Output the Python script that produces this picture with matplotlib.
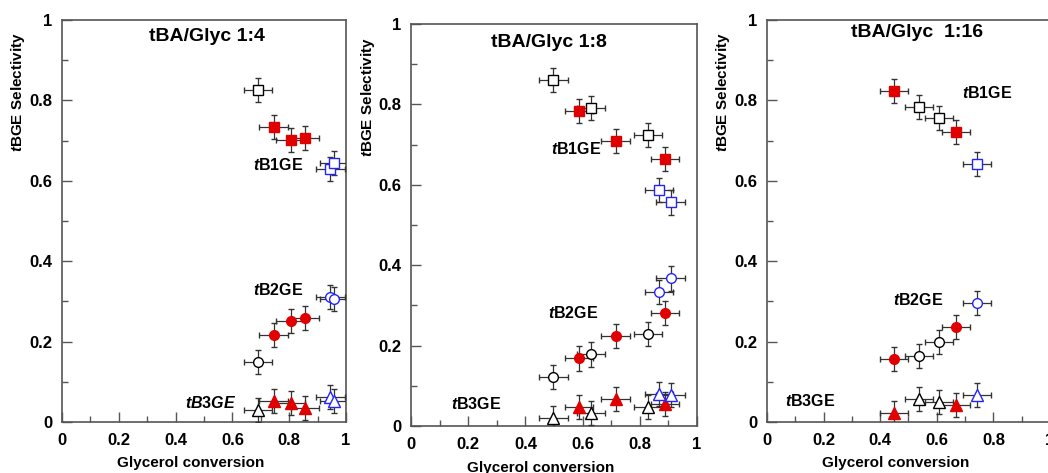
import numpy as np
import matplotlib
matplotlib.use('Agg')
import matplotlib.pyplot as plt
import matplotlib as mpl
from matplotlib.ticker import MultipleLocator, FuncFormatter

mpl.rc('font', family='Liberation Sans', weight='bold')
mpl.rc('mathtext', fontset='custom', it='Liberation Sans:italic:bold',
       rm='Liberation Sans:bold', bf='Liberation Sans:bold')

# ---- data ----
titles = ['tBA/Glyc 1:4', 'tBA/Glyc 1:8', 'tBA/Glyc  1:16']

# tBA/Glyc 1:4
p1_open_x = [0.69]
p1_open_b1 = [0.825]
p1_open_b2 = [0.149]
p1_open_b3 = [0.030]
p1_red_x = [0.745, 0.805, 0.855]
p1_red_b1 = [0.734, 0.701, 0.707]
p1_red_b2 = [0.216, 0.251, 0.259]
p1_red_b3 = [0.052, 0.048, 0.034]
p1_blue_x = [0.945, 0.957]
p1_blue_b1 = [0.629, 0.644]
p1_blue_b2 = [0.310, 0.305]
p1_blue_b3 = [0.063, 0.053]

# tBA/Glyc 1:8
p2_open_x = [0.498, 0.629, 0.828]
p2_open_b1 = [0.861, 0.790, 0.724]
p2_open_b2 = [0.122, 0.178, 0.229]
p2_open_b3 = [0.020, 0.032, 0.048]
p2_red_x = [0.587, 0.716, 0.888]
p2_red_b1 = [0.784, 0.709, 0.664]
p2_red_b2 = [0.168, 0.224, 0.282]
p2_red_b3 = [0.048, 0.068, 0.055]
p2_blue_x = [0.867, 0.908]
p2_blue_b1 = [0.587, 0.556]
p2_blue_b2 = [0.333, 0.367]
p2_blue_b3 = [0.080, 0.078]

# tBA/Glyc 1:16
p3_open_x = [0.537, 0.608]
p3_open_b1 = [0.783, 0.756]
p3_open_b2 = [0.164, 0.199]
p3_open_b3 = [0.057, 0.050]
p3_red_x = [0.449, 0.668]
p3_red_b1 = [0.823, 0.722]
p3_red_b2 = [0.157, 0.237]
p3_red_b3 = [0.022, 0.042]
p3_blue_x = [0.742]
p3_blue_b1 = [0.641]
p3_blue_b2 = [0.296]
p3_blue_b3 = [0.067]

x_err = 0.05
y_err = 0.03

W, H = 1048, 473
fig = plt.figure(figsize=(W/100, H/100), dpi=100)

def px_axes(l, t, r, b):
    return fig.add_axes([l/W, 1-b/H, (r-l)/W, (b-t)/H])

RED = '#e00000'
BLUE = '#2323ff'
SPINE = '#555555'

def series(ax, x, y, marker, style):
    if style == 'red':
        kw = dict(mfc=RED, mec=RED)
    elif style == 'blue':
        kw = dict(mfc='white', mec=BLUE)
    else:
        kw = dict(mfc='white', mec='black')
    ms = {'s': 7.5, 'o': 7, '^': 8}[marker]
    ax.errorbar(x, y, xerr=x_err, yerr=y_err, fmt=marker, ms=ms, mew=1,
                ecolor='#333333', elinewidth=0.9, capsize=2.5, capthick=0.9,
                zorder=3, **kw)

def setup(ax):
    ax.set_xlim(0, 1)
    ax.set_ylim(0, 1)
    for s in ax.spines.values():
        s.set_color(SPINE)
        s.set_linewidth(1.2)
    ax.xaxis.set_major_locator(MultipleLocator(0.2))
    ax.xaxis.set_minor_locator(MultipleLocator(0.1))
    ax.yaxis.set_major_locator(MultipleLocator(0.2))
    ax.yaxis.set_minor_locator(MultipleLocator(0.1))
    fmt = FuncFormatter(lambda v, p: '%g' % round(v, 2))
    ax.xaxis.set_major_formatter(fmt)
    ax.yaxis.set_major_formatter(fmt)
    ax.tick_params(which='both', direction='in', color=SPINE, width=1,
                   labelsize=12)
    ax.tick_params(which='major', length=7)
    ax.tick_params(which='minor', length=4)
    ax.tick_params(axis='x', pad=8)
    ax.tick_params(axis='y', pad=7)

panels = [
    dict(box=(62, 20, 346, 422),
         data=[(p1_open_x, p1_open_b1, p1_open_b2, p1_open_b3, 'open'),
               (p1_red_x, p1_red_b1, p1_red_b2, p1_red_b3, 'red'),
               (p1_blue_x, p1_blue_b1, p1_blue_b2, p1_blue_b3, 'blue')],
         title_pos=(0.51, 0.958),
         labels=[(0.76, 0.64, r'$\mathit{t}$B1GE'),
                 (0.76, 0.328, r'$\mathit{t}$B2GE'),
                 (0.525, 0.047, r'$\mathit{tB3GE}$')],
         ylab=(18, 92), xlab=(191, 463)),
    dict(box=(411, 24, 697, 426),
         data=[(p2_open_x, p2_open_b1, p2_open_b2, p2_open_b3, 'open'),
               (p2_red_x, p2_red_b1, p2_red_b2, p2_red_b3, 'red'),
               (p2_blue_x, p2_blue_b1, p2_blue_b2, p2_blue_b3, 'blue')],
         title_pos=(0.484, 0.955),
         labels=[(0.578, 0.689, r'$\mathit{t}$B1GE'),
                 (0.566, 0.282, r'$\mathit{t}$B2GE'),
                 (0.228, 0.055, r'$\mathit{t}$B3GE')],
         ylab=(368, 97), xlab=(541, 468)),
    dict(box=(767, 20, 1050, 422),
         data=[(p3_open_x, p3_open_b1, p3_open_b2, p3_open_b3, 'open'),
               (p3_red_x, p3_red_b1, p3_red_b2, p3_red_b3, 'red'),
               (p3_blue_x, p3_blue_b1, p3_blue_b2, p3_blue_b3, 'blue')],
         title_pos=(0.53, 0.968),
         labels=[(0.777, 0.818, r'$\mathit{t}$B1GE'),
                 (0.535, 0.303, r'$\mathit{t}$B2GE'),
                 (0.152, 0.052, r'$\mathit{t}$B3GE')],
         ylab=(723, 92), xlab=(896, 463)),
]

for title, p in zip(titles, panels):
    ax = px_axes(*p['box'])
    setup(ax)
    for x, b1, b2, b3, style in p['data']:
        series(ax, x, b1, 's', style)
        series(ax, x, b2, 'o', style)
        series(ax, x, b3, '^', style)
    ax.text(*p['title_pos'], title, transform=ax.transAxes, ha='center',
            va='center', fontsize=14, fontweight='bold')
    for lx, ly, s in p['labels']:
        ax.text(lx, ly, s, ha='center', va='center', fontsize=11.5,
                fontweight='bold')
    fig.text(p['ylab'][0]/W, 1-p['ylab'][1]/H, r'$\mathit{t}$BGE Selectivity',
             rotation=90, ha='center', va='center', fontsize=11,
             fontweight='bold')
    fig.text(p['xlab'][0]/W, 1-p['xlab'][1]/H, 'Glycerol conversion',
             ha='center', va='center', fontsize=11, fontweight='bold')

fig.savefig('out.png', dpi=100)
